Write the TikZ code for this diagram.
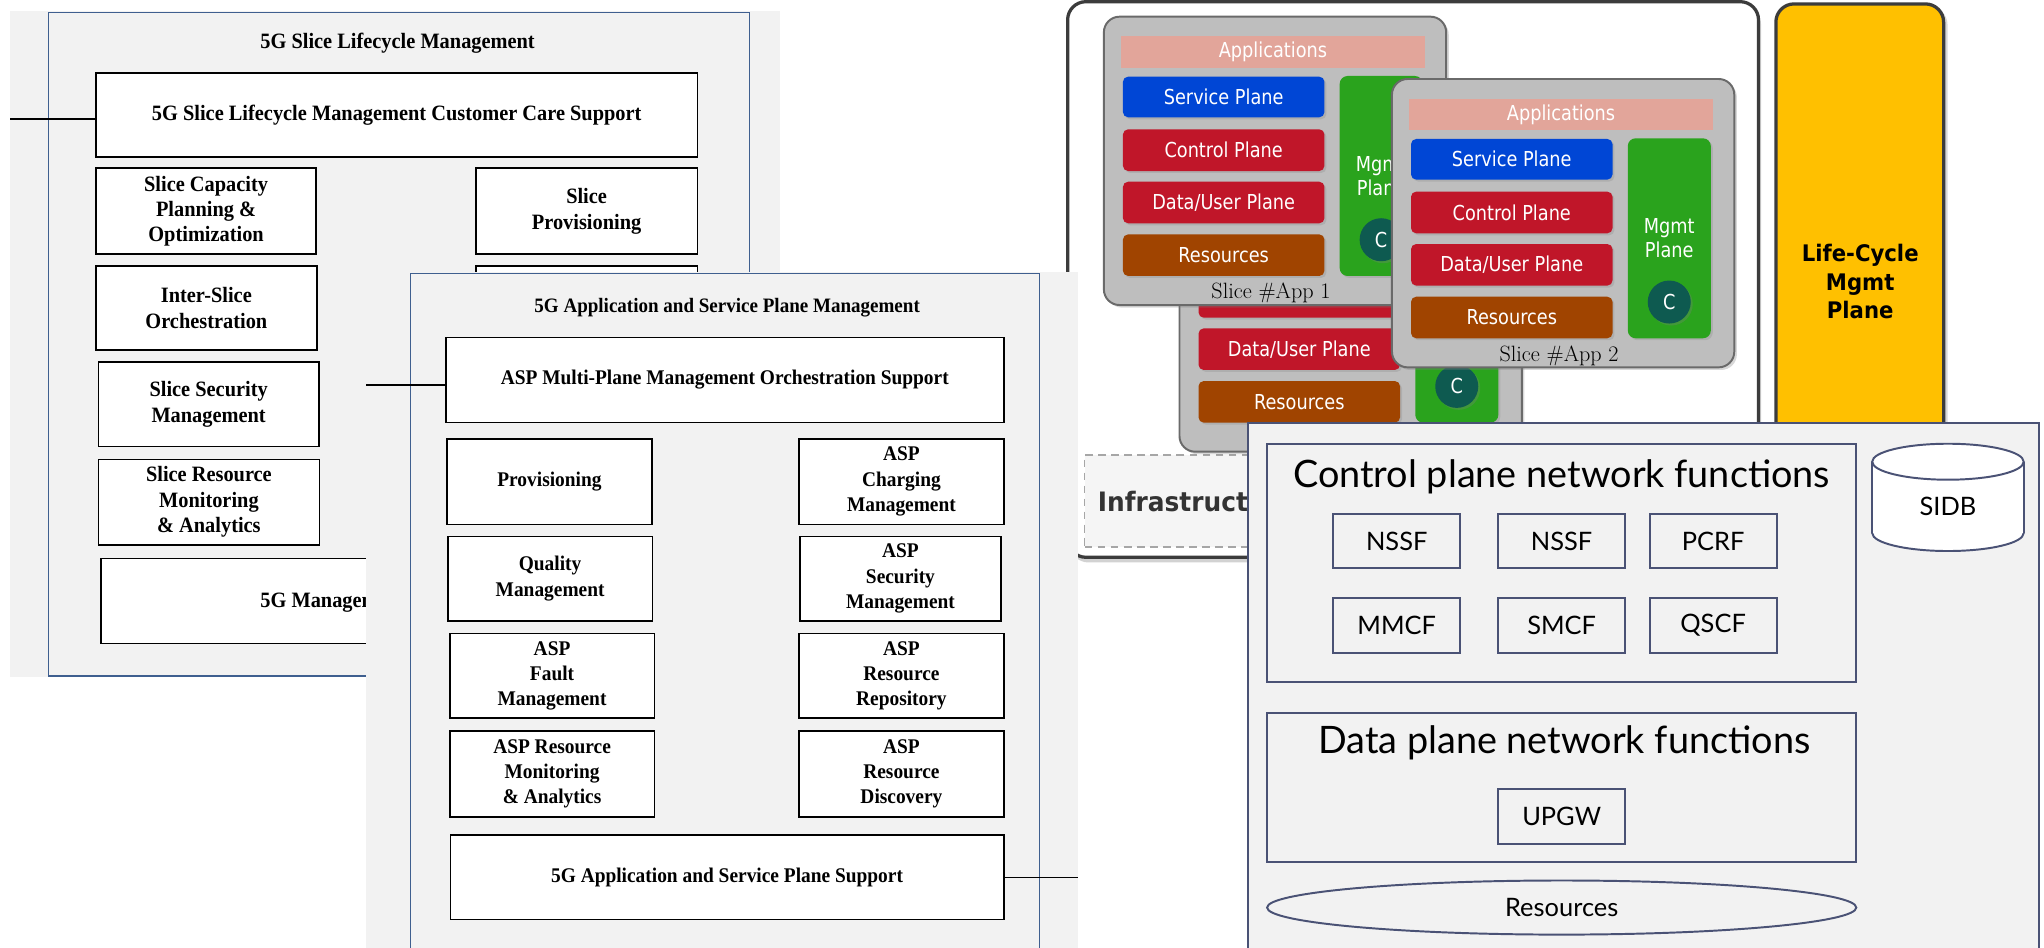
\documentclass[tikz,border=0pt]{standalone}
\usepackage{fontspec}
\newfontfamily\tnr[FakeStretch=0.93]{Liberation Serif}
\newfontfamily\tah[FakeStretch=0.86]{DejaVu Sans}
\newfontfamily\tahb[FakeStretch=0.93]{DejaVu Sans}
\newfontfamily\gil{Lato}
\usetikzlibrary{shadows,shapes.geometric}
\definecolor{bgc}{HTML}{F2F2F2}
\definecolor{framec}{HTML}{3F5F8F}
\definecolor{slate}{HTML}{4A5275}
\definecolor{slicegray}{HTML}{BEBEBE}
\definecolor{slicedraw}{HTML}{6A6A6A}
\definecolor{apink}{HTML}{E2A59A}
\definecolor{svcblue}{HTML}{0046D5}
\definecolor{ctlred}{HTML}{C01629}
\definecolor{resbrown}{HTML}{A04400}
\definecolor{mgreen}{HTML}{2AA31D}
\definecolor{cteal}{HTML}{0E5A50}
\definecolor{lcyellow}{HTML}{FFC000}
\definecolor{darkframe}{HTML}{3C3C3C}
% box by corners: style, name, x1, y1, x2, y2, text
\newcommand\bx[7]{\node[#1, minimum width={(#5-#3)*1pt}, minimum height={(#6-#4)*1pt}] (#2) at ({(#3+#5)/2},{(#4+#6)/2}) {#7};}
\newif\iffulltxt
\newcommand\slicebox[4]{%
\begin{scope}[shift={(#2,#3)}]
\bx{slicebg}{#1}{846.8}{12.8}{1109.4}{234}{}
\bx{appbar}{#1a}{860}{28}{1093}{52}{\iffulltxt Applications\fi}
\bx{bar, fill=svcblue}{#1s}{861.4}{58.8}{1016}{90}{\iffulltxt Service Plane\fi}
\bx{bar, fill=ctlred}{#1c}{861.4}{99.2}{1016}{131.2}{\iffulltxt Control Plane\fi}
\bx{bar, fill=ctlred}{#1d}{861.4}{139.4}{1016}{171.3}{Data/User Plane}
\bx{bar, fill=resbrown}{#1r}{861.4}{179.8}{1016}{211.7}{Resources}
\bx{bar, fill=mgreen, rounded corners=6pt}{#1m}{1027.7}{58.3}{1091.4}{211.7}{}
\iffulltxt\node[bartxt, align=center] (#1mt) at (1059.5,135) {Mgmt\\Plane};\fi
\node[ccirc] (#1k) at (1059.5,183.9) {C};
\iffulltxt\node[slbl] (#1l) at (975,225) {#4};\fi
\end{scope}}
\begin{document}
\begin{tikzpicture}[x=1pt,y=-1pt,
  conn/.style={line width=1.2pt},
  lbox/.style={draw=black, line width=1.2pt, fill=white, inner sep=0pt, align=center,
    font=\tnr\bfseries\fontsize{16.8}{19.5}\selectfont},
  mbox/.style={lbox, font=\tnr\bfseries\fontsize{16}{19.5}\selectfont},
  ltitle/.style={inner sep=0pt, font=\tnr\bfseries\fontsize{16.8}{19.5}\selectfont},
  mtitle/.style={inner sep=0pt, font=\tnr\bfseries\fontsize{15.7}{19.5}\selectfont},
  slicebg/.style={fill=slicegray, draw=slicedraw, line width=1.5pt, rounded corners=12pt, inner sep=0pt,
    drop shadow={opacity=0.3, shadow xshift=2pt, shadow yshift=-2pt}},
  appbar/.style={fill=apink, inner sep=0pt, text=white, font=\tah\fontsize{15.8}{18}\selectfont},
  bar/.style={draw=none, rounded corners=4pt, inner sep=0pt, text=white, font=\tah\fontsize{15.8}{18}\selectfont,
    drop shadow={opacity=0.25, shadow xshift=1.5pt, shadow yshift=-1.5pt}},
  bartxt/.style={inner sep=0pt, text=white, font=\tah\fontsize{15.8}{18}\selectfont},
  ccirc/.style={circle, fill=cteal, minimum size=33pt, inner sep=0pt, text=white,
    font=\tah\fontsize{15.8}{18}\selectfont, drop shadow={opacity=0.3, shadow xshift=1.5pt, shadow yshift=-1.5pt}},
  slbl/.style={inner sep=0pt, font=\fontsize{17}{19}\selectfont},
  nfbox/.style={draw=slate, line width=1.5pt, fill=bgc, inner sep=0pt, font=\gil\fontsize{19.5}{22}\selectfont},
  nftitle/.style={inner sep=0pt, font=\gil\fontsize{29}{32}\selectfont}
]
\useasboundingbox (0,0) rectangle (1568,727);
\clip (0,0) rectangle (1568,727);
\fill[white] (0,0) rectangle (1568,727);

% ---------- left panel ----------
\fill[bgc] (8,8.4) rectangle (598,519);
\draw[framec, line width=1pt] (37,9.5) rectangle (575,518.6);
\node[ltitle] (lt) at (305,33) {5G Slice Lifecycle Management};
\bx{lbox}{ccs}{73.6}{55.8}{535}{120.4}{5G Slice Lifecycle Management Customer Care Support}
\coordinate (l1) at (8,91.3);
\draw[conn] (l1) -- (l1 -| ccs.west);
\bx{lbox}{cap}{73.6}{129}{242.6}{195}{Slice Capacity\\Planning \&\\Optimization}
\bx{lbox}{prov}{365}{129}{535}{195}{Slice\\Provisioning}
\bx{lbox}{hid}{365}{204}{535}{268.5}{}
\bx{lbox}{inter}{73.6}{204}{243}{268.5}{Inter-Slice\\Orchestration}
\bx{lbox}{sec}{75.5}{277.5}{244.6}{342.6}{Slice Security\\Management}
\bx{lbox}{mon}{75.5}{352.4}{245}{418}{Slice Resource\\Monitoring\\\& Analytics}
\bx{lbox}{mgb}{77.5}{428.6}{535}{493.5}{}
\node[ltitle, anchor=base west] (mgt) at (199.6,466) {5G Management};

% ---------- right panel ----------
\bx{fill=white, draw=darkframe, line width=2.5pt, rounded corners=14pt, inner sep=0pt,
  drop shadow={opacity=0.35, shadow xshift=2pt, shadow yshift=-4pt}}{rf}{819}{1.3}{1349}{427.5}{}
\bx{fill=lcyellow, draw=darkframe, line width=2.5pt, rounded corners=14pt, inner sep=0pt,
  drop shadow={opacity=0.3, shadow xshift=3pt, shadow yshift=-2pt}}{lc}{1362.3}{3}{1491}{440}{}
\node[inner sep=0pt, align=center, font=\tahb\bfseries\fontsize{17.5}{22}\selectfont] (lct) at (1427,216) {Life-Cycle\\Mgmt\\Plane};
\bx{fill=white!96!black, draw=gray!70, dashed, dash pattern=on 6pt off 4pt, line width=1.3pt, inner sep=0pt}{inf}{832}{349}{1300}{419.5}{}
\node[inner sep=0pt, anchor=west, text=black!80, font=\tahb\bfseries\fontsize{20.5}{24}\selectfont] (inft) at (842,385) {Infrastructure};
\fulltxtfalse
\slicebox{sz}{58}{112.5}{}
\fulltxttrue
\slicebox{sa}{0}{0}{Slice \#App \oldstylenums{1}}
\slicebox{sb}{221}{47.8}{Slice \#App \oldstylenums{2}}

% ---------- middle panel ----------
\fill[bgc] (281,209) rectangle (827,730);
\draw[framec, line width=1pt] (315,209.6) rectangle (797.4,740);
\node[mtitle] (mt) at (557.8,235.8) {5G Application and Service Plane Management};
\bx{mbox}{mp}{342}{259}{770}{324}{ASP Multi-Plane Management Orchestration Support}
\coordinate (l2) at (281,295.4);
\draw[conn] (l2) -- (l2 -| mp.west);
\bx{mbox}{pv}{343}{336.8}{500}{402.4}{Provisioning}
\bx{mbox}{chg}{613}{336.8}{770}{402.4}{ASP\\Charging\\Management}
\bx{mbox}{qm}{343.5}{411.5}{500.5}{476.4}{Quality\\Management}
\bx{mbox}{asec}{613.5}{411.5}{768}{476.4}{ASP\\Security\\Management}
\bx{mbox}{flt}{345}{486}{502}{551}{ASP\\Fault\\Management}
\bx{mbox}{rep}{613}{486}{770}{551}{ASP\\Resource\\Repository}
\bx{mbox}{amon}{345}{560.6}{502}{626.6}{ASP Resource\\Monitoring\\\& Analytics}
\bx{mbox}{disc}{613}{560.6}{770}{626.6}{ASP\\Resource\\Discovery}
\bx{mbox}{sup}{345.5}{640.4}{770}{705.4}{5G Application and Service Plane Support}
\coordinate (l3) at (827,673);
\draw[conn] (sup.east |- l3) -- (l3);

% ---------- bottom right panel ----------
\bx{fill=bgc, draw=slate, line width=1.5pt, inner sep=0pt}{bp}{957.2}{324.3}{1564}{740}{}
\bx{nfbox}{cpb}{972.2}{340.4}{1424}{523.5}{}
\node[nftitle] (cpt) at (1198,365.8) {Control plane network functions};
\bx{nfbox}{n1}{1022.9}{394}{1120}{436}{NSSF}
\bx{nfbox}{n2}{1149.3}{394}{1246.6}{436}{NSSF}
\bx{nfbox}{n3}{1265.5}{394}{1362.8}{436}{PCRF}
\bx{nfbox}{n4}{1022.9}{458.6}{1120}{501}{MMCF}
\bx{nfbox}{n5}{1149.3}{458.6}{1246.6}{501}{SMCF}
\bx{nfbox}{n6}{1265.5}{458.6}{1362.8}{501}{QSCF}
\bx{nfbox}{dpb}{972.2}{546.8}{1424}{661.3}{}
\node[nftitle] (dpt) at (1200,569.6) {Data plane network functions};
\bx{nfbox}{upgw}{1149.3}{605}{1246.6}{647.4}{UPGW}
\node[nfbox, ellipse, minimum width=452pt, minimum height=41.5pt] (res) at (1198,696.2) {Resources};
% SIDB cylinder
\draw[slate, line width=1.5pt, fill=white] (1494.3,408.9) ellipse [x radius=58.1pt, y radius=13.8pt];
\fill[white] (1436.2,354.2) rectangle (1552.4,408.9);
\draw[slate, line width=1.5pt] (1436.2,354.2) -- (1436.2,408.9) (1552.4,354.2) -- (1552.4,408.9);
\draw[slate, line width=1.5pt, fill=white] (1494.3,354.2) ellipse [x radius=58.1pt, y radius=13.8pt];
\node[inner sep=0pt, font=\gil\fontsize{19.5}{22}\selectfont] (sidb) at (1494.3,388.6) {SIDB};
\end{tikzpicture}
\end{document}
